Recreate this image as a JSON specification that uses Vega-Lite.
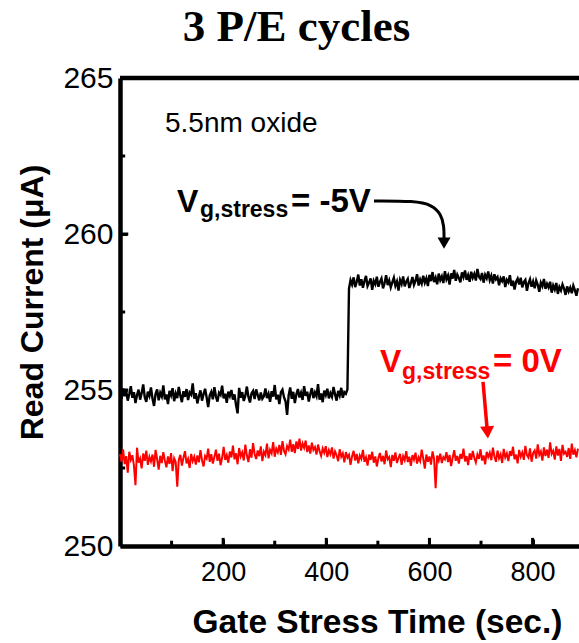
{
  "$schema": "https://vega.github.io/schema/vega-lite/v6.json",
  "width": 459,
  "height": 468,
  "autosize": {"type": "none"},
  "padding": {"left": 120, "top": 78, "right": 0, "bottom": 97},
  "background": "white",
  "config": {
    "view": {"stroke": null},
    "font": "Liberation Sans",
    "axis": {
      "grid": false, "domainColor": "black", "domainWidth": 4.5,
      "tickColor": "black", "tickWidth": 3,
      "labelFont": "Liberation Sans", "labelColor": "black",
      "labelFlush": false, "labelOverlap": false,
      "titleFont": "Liberation Sans", "titleFontWeight": "bold", "titleColor": "black"
    }
  },
  "title": {"text": "3 P/E cycles", "font": "Liberation Serif", "fontSize": 45, "fontWeight": "bold", "color": "black", "anchor": "middle", "frame": "group", "dx": -53, "offset": 13},
  "datasets": {
    "current": [
      {"t":0,"neg5V":254.92,"zeroV":252.95},{"t":3,"neg5V":254.71,"zeroV":252.70},{"t":6,"neg5V":255.05,"zeroV":253.10},{"t":9,"neg5V":254.80,"zeroV":252.62},{"t":12,"neg5V":254.98,"zeroV":252.88},
      {"t":15,"neg5V":254.66,"zeroV":252.35},{"t":18,"neg5V":254.87,"zeroV":253.02},{"t":21,"neg5V":255.12,"zeroV":252.76},{"t":24,"neg5V":254.75,"zeroV":252.91},{"t":27,"neg5V":254.93,"zeroV":252.58},
      {"t":30,"neg5V":254.58,"zeroV":251.95},{"t":33,"neg5V":254.84,"zeroV":253.15},{"t":36,"neg5V":255.01,"zeroV":252.67},{"t":39,"neg5V":254.69,"zeroV":252.80},{"t":42,"neg5V":254.90,"zeroV":252.49},
      {"t":45,"neg5V":255.18,"zeroV":252.97},{"t":48,"neg5V":254.77,"zeroV":252.73},{"t":51,"neg5V":254.62,"zeroV":253.06},{"t":54,"neg5V":254.95,"zeroV":252.60},{"t":57,"neg5V":254.81,"zeroV":252.86},
      {"t":60,"neg5V":255.08,"zeroV":252.71},{"t":63,"neg5V":254.73,"zeroV":252.93},{"t":66,"neg5V":254.49,"zeroV":252.54},{"t":69,"neg5V":254.88,"zeroV":253.08},{"t":72,"neg5V":255.02,"zeroV":252.78},
      {"t":75,"neg5V":254.67,"zeroV":252.45},{"t":78,"neg5V":254.91,"zeroV":252.89},{"t":81,"neg5V":254.79,"zeroV":252.66},{"t":84,"neg5V":255.15,"zeroV":253.01},{"t":87,"neg5V":254.70,"zeroV":252.74},
      {"t":90,"neg5V":254.86,"zeroV":252.52},{"t":93,"neg5V":254.55,"zeroV":252.87},{"t":96,"neg5V":254.97,"zeroV":252.63},{"t":99,"neg5V":254.83,"zeroV":252.98},{"t":102,"neg5V":255.06,"zeroV":252.40},
      {"t":105,"neg5V":254.64,"zeroV":252.81},{"t":108,"neg5V":254.89,"zeroV":252.69},{"t":111,"neg5V":254.74,"zeroV":251.90},{"t":114,"neg5V":255.10,"zeroV":252.77},{"t":117,"neg5V":254.82,"zeroV":252.92},
      {"t":120,"neg5V":254.61,"zeroV":252.58},{"t":123,"neg5V":254.96,"zeroV":252.83},{"t":126,"neg5V":254.78,"zeroV":253.04},{"t":129,"neg5V":255.03,"zeroV":252.65},{"t":132,"neg5V":254.68,"zeroV":252.79},
      {"t":135,"neg5V":254.92,"zeroV":252.50},{"t":138,"neg5V":254.85,"zeroV":252.95},{"t":141,"neg5V":255.21,"zeroV":252.72},{"t":144,"neg5V":254.72,"zeroV":252.86},{"t":147,"neg5V":254.90,"zeroV":252.61},
      {"t":150,"neg5V":254.57,"zeroV":252.90},{"t":153,"neg5V":254.80,"zeroV":252.68},{"t":156,"neg5V":254.99,"zeroV":253.07},{"t":159,"neg5V":254.66,"zeroV":252.75},{"t":162,"neg5V":254.87,"zeroV":252.55},
      {"t":165,"neg5V":255.04,"zeroV":252.88},{"t":168,"neg5V":254.76,"zeroV":252.80},{"t":171,"neg5V":254.45,"zeroV":253.12},{"t":174,"neg5V":254.83,"zeroV":252.70},{"t":177,"neg5V":254.94,"zeroV":252.94},
      {"t":180,"neg5V":254.70,"zeroV":252.64},{"t":183,"neg5V":255.09,"zeroV":252.85},{"t":186,"neg5V":254.79,"zeroV":253.09},{"t":189,"neg5V":254.63,"zeroV":252.73},{"t":192,"neg5V":254.91,"zeroV":252.96},
      {"t":195,"neg5V":254.84,"zeroV":252.59},{"t":198,"neg5V":255.14,"zeroV":252.82},{"t":201,"neg5V":254.73,"zeroV":253.18},{"t":204,"neg5V":254.88,"zeroV":252.76},{"t":207,"neg5V":254.59,"zeroV":252.91},
      {"t":210,"neg5V":254.95,"zeroV":252.67},{"t":213,"neg5V":254.81,"zeroV":253.03},{"t":216,"neg5V":255.00,"zeroV":252.84},{"t":219,"neg5V":254.69,"zeroV":253.22},{"t":222,"neg5V":254.86,"zeroV":252.78},
      {"t":225,"neg5V":254.52,"zeroV":252.97},{"t":228,"neg5V":254.25,"zeroV":252.62},{"t":231,"neg5V":255.07,"zeroV":253.14},{"t":234,"neg5V":254.75,"zeroV":252.87},{"t":237,"neg5V":254.93,"zeroV":253.00},
      {"t":240,"neg5V":254.65,"zeroV":252.74},{"t":243,"neg5V":254.82,"zeroV":253.25},{"t":246,"neg5V":255.11,"zeroV":252.90},{"t":249,"neg5V":254.78,"zeroV":252.69},{"t":252,"neg5V":254.60,"zeroV":253.10},
      {"t":255,"neg5V":254.89,"zeroV":252.83},{"t":258,"neg5V":254.97,"zeroV":253.30},{"t":261,"neg5V":254.71,"zeroV":252.95},{"t":264,"neg5V":255.02,"zeroV":252.79},{"t":267,"neg5V":254.84,"zeroV":253.06},
      {"t":270,"neg5V":254.67,"zeroV":252.88},{"t":273,"neg5V":254.92,"zeroV":253.19},{"t":276,"neg5V":254.72,"zeroV":252.72},{"t":279,"neg5V":254.80,"zeroV":253.02},{"t":282,"neg5V":255.05,"zeroV":252.91},
      {"t":285,"neg5V":254.74,"zeroV":253.28},{"t":288,"neg5V":254.88,"zeroV":252.81},{"t":291,"neg5V":254.62,"zeroV":253.08},{"t":294,"neg5V":254.96,"zeroV":252.97},{"t":297,"neg5V":254.79,"zeroV":253.33},
      {"t":300,"neg5V":255.16,"zeroV":252.86},{"t":303,"neg5V":254.70,"zeroV":253.12},{"t":306,"neg5V":254.85,"zeroV":253.00},{"t":309,"neg5V":254.55,"zeroV":253.24},{"t":312,"neg5V":254.93,"zeroV":252.92},
      {"t":315,"neg5V":255.01,"zeroV":253.36},{"t":318,"neg5V":254.77,"zeroV":253.05},{"t":321,"neg5V":254.64,"zeroV":252.94},{"t":324,"neg5V":254.20,"zeroV":253.20},{"t":327,"neg5V":254.83,"zeroV":253.09},
      {"t":330,"neg5V":255.08,"zeroV":253.41},{"t":333,"neg5V":254.72,"zeroV":253.02},{"t":336,"neg5V":254.94,"zeroV":253.26},{"t":339,"neg5V":254.58,"zeroV":252.98},{"t":342,"neg5V":254.86,"zeroV":253.35},
      {"t":345,"neg5V":255.03,"zeroV":253.11},{"t":348,"neg5V":254.76,"zeroV":253.44},{"t":351,"neg5V":254.91,"zeroV":253.06},{"t":354,"neg5V":254.68,"zeroV":253.29},{"t":357,"neg5V":255.12,"zeroV":253.15},
      {"t":360,"neg5V":254.81,"zeroV":253.38},{"t":363,"neg5V":254.95,"zeroV":253.01},{"t":366,"neg5V":254.63,"zeroV":253.22},{"t":369,"neg5V":254.87,"zeroV":252.96},{"t":372,"neg5V":255.06,"zeroV":253.31},
      {"t":375,"neg5V":254.74,"zeroV":253.08},{"t":378,"neg5V":254.92,"zeroV":253.17},{"t":381,"neg5V":254.80,"zeroV":252.93},{"t":384,"neg5V":255.19,"zeroV":253.25},{"t":387,"neg5V":254.69,"zeroV":253.04},
      {"t":390,"neg5V":254.89,"zeroV":252.89},{"t":393,"neg5V":254.61,"zeroV":253.13},{"t":396,"neg5V":254.98,"zeroV":252.99},{"t":399,"neg5V":254.84,"zeroV":253.20},{"t":402,"neg5V":255.04,"zeroV":252.85},
      {"t":405,"neg5V":254.73,"zeroV":253.07},{"t":408,"neg5V":254.90,"zeroV":252.94},{"t":411,"neg5V":254.78,"zeroV":253.16},{"t":414,"neg5V":255.10,"zeroV":252.80},{"t":417,"neg5V":254.86,"zeroV":253.03},
      {"t":420,"neg5V":254.66,"zeroV":252.91},{"t":423,"neg5V":254.97,"zeroV":252.72},{"t":426,"neg5V":254.82,"zeroV":253.10},{"t":429,"neg5V":255.07,"zeroV":252.86},{"t":432,"neg5V":254.75,"zeroV":252.97},
      {"t":435,"neg5V":254.93,"zeroV":252.68},{"t":438,"neg5V":254.88,"zeroV":253.01},{"t":441,"neg5V":255.02,"zeroV":252.83},{"t":444,"neg5V":258.25,"zeroV":252.92},{"t":447,"neg5V":258.52,"zeroV":252.60},
      {"t":450,"neg5V":258.38,"zeroV":252.88},{"t":453,"neg5V":258.61,"zeroV":253.05},{"t":456,"neg5V":258.30,"zeroV":252.74},{"t":459,"neg5V":258.47,"zeroV":252.95},{"t":462,"neg5V":258.70,"zeroV":252.65},
      {"t":465,"neg5V":258.35,"zeroV":252.90},{"t":468,"neg5V":258.55,"zeroV":252.79},{"t":471,"neg5V":258.28,"zeroV":253.08},{"t":474,"neg5V":258.49,"zeroV":252.70},{"t":477,"neg5V":258.66,"zeroV":252.84},
      {"t":480,"neg5V":258.33,"zeroV":252.58},{"t":483,"neg5V":258.44,"zeroV":252.93},{"t":486,"neg5V":258.58,"zeroV":252.76},{"t":489,"neg5V":258.21,"zeroV":253.02},{"t":492,"neg5V":258.50,"zeroV":252.67},
      {"t":495,"neg5V":258.39,"zeroV":252.87},{"t":498,"neg5V":258.63,"zeroV":252.55},{"t":501,"neg5V":258.31,"zeroV":252.81},{"t":504,"neg5V":258.46,"zeroV":252.98},{"t":507,"neg5V":258.57,"zeroV":252.71},
      {"t":510,"neg5V":258.26,"zeroV":252.89},{"t":513,"neg5V":258.42,"zeroV":252.62},{"t":516,"neg5V":258.68,"zeroV":253.06},{"t":519,"neg5V":258.36,"zeroV":252.78},{"t":522,"neg5V":258.51,"zeroV":252.85},
      {"t":525,"neg5V":258.29,"zeroV":252.53},{"t":528,"neg5V":258.45,"zeroV":252.92},{"t":531,"neg5V":258.60,"zeroV":252.73},{"t":534,"neg5V":258.34,"zeroV":253.00},{"t":537,"neg5V":258.48,"zeroV":252.66},
      {"t":540,"neg5V":258.19,"zeroV":252.82},{"t":543,"neg5V":258.53,"zeroV":252.95},{"t":546,"neg5V":258.40,"zeroV":252.60},{"t":549,"neg5V":258.64,"zeroV":252.88},{"t":552,"neg5V":258.32,"zeroV":252.75},
      {"t":555,"neg5V":258.47,"zeroV":253.04},{"t":558,"neg5V":258.56,"zeroV":252.69},{"t":561,"neg5V":258.27,"zeroV":252.86},{"t":564,"neg5V":258.43,"zeroV":252.57},{"t":567,"neg5V":258.62,"zeroV":252.91},
      {"t":570,"neg5V":258.37,"zeroV":252.77},{"t":573,"neg5V":258.50,"zeroV":252.99},{"t":576,"neg5V":258.71,"zeroV":252.64},{"t":579,"neg5V":258.35,"zeroV":252.84},{"t":582,"neg5V":258.54,"zeroV":252.72},
      {"t":585,"neg5V":258.41,"zeroV":253.09},{"t":588,"neg5V":258.66,"zeroV":252.80},{"t":591,"neg5V":258.44,"zeroV":252.48},{"t":594,"neg5V":258.58,"zeroV":252.93},{"t":597,"neg5V":258.33,"zeroV":252.70},
      {"t":600,"neg5V":258.69,"zeroV":252.87},{"t":603,"neg5V":258.49,"zeroV":252.61},{"t":606,"neg5V":258.78,"zeroV":253.03},{"t":609,"neg5V":258.46,"zeroV":252.79},{"t":612,"neg5V":258.60,"zeroV":251.85},
      {"t":615,"neg5V":258.39,"zeroV":252.90},{"t":618,"neg5V":258.73,"zeroV":252.74},{"t":621,"neg5V":258.52,"zeroV":252.96},{"t":624,"neg5V":258.64,"zeroV":252.66},{"t":627,"neg5V":258.43,"zeroV":252.85},
      {"t":630,"neg5V":258.81,"zeroV":252.78},{"t":633,"neg5V":258.55,"zeroV":253.01},{"t":636,"neg5V":258.67,"zeroV":252.69},{"t":639,"neg5V":258.38,"zeroV":252.92},{"t":642,"neg5V":258.74,"zeroV":252.56},
      {"t":645,"neg5V":258.57,"zeroV":252.83},{"t":648,"neg5V":258.85,"zeroV":253.07},{"t":651,"neg5V":258.50,"zeroV":252.73},{"t":654,"neg5V":258.70,"zeroV":252.89},{"t":657,"neg5V":258.59,"zeroV":252.64},
      {"t":660,"neg5V":258.45,"zeroV":252.95},{"t":663,"neg5V":258.77,"zeroV":252.80},{"t":666,"neg5V":258.62,"zeroV":253.12},{"t":669,"neg5V":258.83,"zeroV":252.71},{"t":672,"neg5V":258.53,"zeroV":252.88},
      {"t":675,"neg5V":258.68,"zeroV":252.59},{"t":678,"neg5V":258.47,"zeroV":252.97},{"t":681,"neg5V":258.79,"zeroV":252.76},{"t":684,"neg5V":258.60,"zeroV":253.05},{"t":687,"neg5V":258.72,"zeroV":252.82},
      {"t":690,"neg5V":258.51,"zeroV":252.68},{"t":693,"neg5V":258.88,"zeroV":252.93},{"t":696,"neg5V":258.63,"zeroV":252.79},{"t":699,"neg5V":258.56,"zeroV":253.10},{"t":702,"neg5V":258.75,"zeroV":252.74},
      {"t":705,"neg5V":258.44,"zeroV":252.90},{"t":708,"neg5V":258.69,"zeroV":252.62},{"t":711,"neg5V":258.58,"zeroV":253.02},{"t":714,"neg5V":258.80,"zeroV":252.85},{"t":717,"neg5V":258.52,"zeroV":252.99},
      {"t":720,"neg5V":258.66,"zeroV":252.75},{"t":723,"neg5V":258.41,"zeroV":253.15},{"t":726,"neg5V":258.71,"zeroV":252.87},{"t":729,"neg5V":258.55,"zeroV":252.70},{"t":732,"neg5V":258.62,"zeroV":253.06},
      {"t":735,"neg5V":258.36,"zeroV":252.81},{"t":738,"neg5V":258.58,"zeroV":252.94},{"t":741,"neg5V":258.49,"zeroV":252.66},{"t":744,"neg5V":258.64,"zeroV":253.11},{"t":747,"neg5V":258.30,"zeroV":252.84},
      {"t":750,"neg5V":258.53,"zeroV":252.97},{"t":753,"neg5V":258.45,"zeroV":252.72},{"t":756,"neg5V":258.68,"zeroV":253.04},{"t":759,"neg5V":258.34,"zeroV":252.89},{"t":762,"neg5V":258.50,"zeroV":253.18},
      {"t":765,"neg5V":258.22,"zeroV":252.78},{"t":768,"neg5V":258.47,"zeroV":252.93},{"t":771,"neg5V":258.57,"zeroV":252.65},{"t":774,"neg5V":258.38,"zeroV":253.08},{"t":777,"neg5V":258.60,"zeroV":252.86},
      {"t":780,"neg5V":258.29,"zeroV":253.00},{"t":783,"neg5V":258.46,"zeroV":252.76},{"t":786,"neg5V":258.53,"zeroV":253.21},{"t":789,"neg5V":258.18,"zeroV":252.91},{"t":792,"neg5V":258.42,"zeroV":252.83},
      {"t":795,"neg5V":258.55,"zeroV":253.13},{"t":798,"neg5V":258.31,"zeroV":252.70},{"t":801,"neg5V":258.48,"zeroV":252.98},{"t":804,"neg5V":258.26,"zeroV":253.06},{"t":807,"neg5V":258.51,"zeroV":252.80},
      {"t":810,"neg5V":258.37,"zeroV":253.26},{"t":813,"neg5V":258.15,"zeroV":252.92},{"t":816,"neg5V":258.44,"zeroV":253.03},{"t":819,"neg5V":258.33,"zeroV":252.74},{"t":822,"neg5V":258.56,"zeroV":253.16},
      {"t":825,"neg5V":258.24,"zeroV":252.88},{"t":828,"neg5V":258.40,"zeroV":253.09},{"t":831,"neg5V":258.29,"zeroV":252.82},{"t":834,"neg5V":258.47,"zeroV":253.32},{"t":837,"neg5V":258.12,"zeroV":252.95},
      {"t":840,"neg5V":258.35,"zeroV":253.05},{"t":843,"neg5V":258.22,"zeroV":252.77},{"t":846,"neg5V":258.43,"zeroV":253.19},{"t":849,"neg5V":258.08,"zeroV":252.90},{"t":852,"neg5V":258.30,"zeroV":253.11},
      {"t":855,"neg5V":258.19,"zeroV":252.73},{"t":858,"neg5V":258.38,"zeroV":253.24},{"t":861,"neg5V":258.25,"zeroV":252.96},{"t":864,"neg5V":258.05,"zeroV":253.02},{"t":867,"neg5V":258.32,"zeroV":252.85},
      {"t":870,"neg5V":258.16,"zeroV":253.14},{"t":873,"neg5V":258.28,"zeroV":252.79},{"t":876,"neg5V":258.10,"zeroV":253.28},{"t":879,"neg5V":258.34,"zeroV":252.93},{"t":882,"neg5V":258.20,"zeroV":253.07},
      {"t":885,"neg5V":258.02,"zeroV":252.84},{"t":888,"neg5V":258.26,"zeroV":253.12}
    ],
    "arrowNeg5": [
      {"k":0,"t":492.5,"v":261.06},{"k":1,"t":572.0,"v":261.06},{"k":2,"t":605.0,"v":260.93},
      {"k":3,"t":622.5,"v":260.64},{"k":4,"t":628.3,"v":260.26},{"k":5,"t":628.3,"v":259.87}
    ],
    "arrowZero": [
      {"k":0,"t":703.9,"v":255.26},{"k":1,"t":711.7,"v":253.78}
    ],
    "majorTimeTicks": [{"t":200},{"t":400},{"t":600},{"t":800}],
    "minorTimeTicks": [{"t":100},{"t":300},{"t":500},{"t":700}],
    "majorCurrentTicks": [{"v":255},{"v":260}],
    "minorCurrentTicks": [{"v":252.5},{"v":257.5},{"v":262.5}],
    "anchor": [{}]
  },
  "layer": [
    {
      "data": {"name": "current"},
      "mark": {"type": "line", "color": "black", "strokeWidth": 2.4},
      "encoding": {
        "x": {
          "field": "t", "type": "quantitative",
          "scale": {"domain": [0, 890], "nice": false, "zero": false},
          "axis": {
            "orient": "bottom", "title": "Gate Stress Time (sec.)",
            "values": [200, 400, 600, 800],
            "format": "d",
            "tickSize": -7,
            "labelFontSize": 27, "labelPadding": 20,
            "titleFontSize": 33.5,
            "titleX": 257, "titleY": 86, "titleAlign": "center", "titleBaseline": "alphabetic"
          }
        },
        "y": {
          "field": "neg5V", "type": "quantitative",
          "scale": {"domain": [250, 265], "nice": false, "zero": false},
          "axis": {
            "orient": "left", "title": "Read Current (μA)",
            "values": [250, 255, 260, 265],
            "format": "d",
            "tickSize": -7,
            "labelFontSize": 30, "labelPadding": 14,
            "titleFontSize": 32,
            "titleX": -78, "titleY": 224, "titleAngle": -90, "titleAlign": "center", "titleBaseline": "alphabetic"
          }
        }
      }
    },
    {
      "data": {"name": "current"},
      "mark": {"type": "line", "color": "#ff0000", "strokeWidth": 2},
      "encoding": {
        "x": {"field": "t", "type": "quantitative"},
        "y": {"field": "zeroV", "type": "quantitative"}
      }
    },
    {
      "data": {"name": "majorTimeTicks"},
      "mark": {"type": "rule", "color": "black", "strokeWidth": 3},
      "encoding": {
        "x": {"field": "t", "type": "quantitative"},
        "y": {"datum": 250, "type": "quantitative"},
        "y2": {"datum": 250.26}
      }
    },
    {
      "data": {"name": "minorTimeTicks"},
      "mark": {"type": "rule", "color": "black", "strokeWidth": 3},
      "encoding": {
        "x": {"field": "t", "type": "quantitative"},
        "y": {"datum": 250, "type": "quantitative"},
        "y2": {"datum": 250.17}
      }
    },
    {
      "data": {"name": "majorCurrentTicks"},
      "mark": {"type": "rule", "color": "black", "strokeWidth": 3},
      "encoding": {
        "y": {"field": "v", "type": "quantitative"},
        "x": {"datum": 0, "type": "quantitative"},
        "x2": {"datum": 16}
      }
    },
    {
      "data": {"name": "minorCurrentTicks"},
      "mark": {"type": "rule", "color": "black", "strokeWidth": 3},
      "encoding": {
        "y": {"field": "v", "type": "quantitative"},
        "x": {"datum": 0, "type": "quantitative"},
        "x2": {"datum": 10}
      }
    },
    {
      "data": {"name": "anchor"},
      "mark": {"type": "rule", "color": "black", "strokeWidth": 4.5},
      "encoding": {"y": {"datum": 265, "type": "quantitative"}}
    },
    {
      "data": {"name": "anchor"},
      "mark": {"type": "text", "text": "5.5nm oxide", "font": "Liberation Sans", "fontSize": 28, "align": "left", "baseline": "alphabetic", "color": "black"},
      "encoding": {"x": {"datum": 87.3, "type": "quantitative"}, "y": {"datum": 263.28, "type": "quantitative"}}
    },
    {
      "data": {"name": "anchor"},
      "mark": {"type": "text", "text": "V", "font": "Liberation Sans", "fontSize": 32, "fontWeight": "bold", "align": "left", "baseline": "alphabetic", "color": "black"},
      "encoding": {"x": {"datum": 110.5, "type": "quantitative"}, "y": {"datum": 260.705, "type": "quantitative"}}
    },
    {
      "data": {"name": "anchor"},
      "mark": {"type": "text", "text": "g,stress", "font": "Liberation Sans", "fontSize": 23, "fontWeight": "bold", "align": "left", "baseline": "alphabetic", "color": "black"},
      "encoding": {"x": {"datum": 155.1, "type": "quantitative"}, "y": {"datum": 260.545, "type": "quantitative"}}
    },
    {
      "data": {"name": "anchor"},
      "mark": {"type": "text", "text": "= -5V", "font": "Liberation Sans", "fontSize": 33, "fontWeight": "bold", "align": "left", "baseline": "alphabetic", "color": "black"},
      "encoding": {"x": {"datum": 331.6, "type": "quantitative"}, "y": {"datum": 260.705, "type": "quantitative"}}
    },
    {
      "data": {"name": "anchor"},
      "mark": {"type": "text", "text": "V", "font": "Liberation Sans", "fontSize": 32, "fontWeight": "bold", "align": "left", "baseline": "alphabetic", "color": "#ff0000"},
      "encoding": {"x": {"datum": 504.2, "type": "quantitative"}, "y": {"datum": 255.577, "type": "quantitative"}}
    },
    {
      "data": {"name": "anchor"},
      "mark": {"type": "text", "text": "g,stress", "font": "Liberation Sans", "fontSize": 23, "fontWeight": "bold", "align": "left", "baseline": "alphabetic", "color": "#ff0000"},
      "encoding": {"x": {"datum": 546.8, "type": "quantitative"}, "y": {"datum": 255.353, "type": "quantitative"}}
    },
    {
      "data": {"name": "anchor"},
      "mark": {"type": "text", "text": "= 0V", "font": "Liberation Sans", "fontSize": 33, "fontWeight": "bold", "align": "left", "baseline": "alphabetic", "color": "#ff0000"},
      "encoding": {"x": {"datum": 723.3, "type": "quantitative"}, "y": {"datum": 255.577, "type": "quantitative"}}
    },
    {
      "data": {"name": "arrowNeg5"},
      "mark": {"type": "line", "color": "black", "strokeWidth": 3, "interpolate": "basis"},
      "encoding": {
        "x": {"field": "t", "type": "quantitative"},
        "y": {"field": "v", "type": "quantitative"},
        "order": {"field": "k"}
      }
    },
    {
      "data": {"name": "anchor"},
      "mark": {"type": "point", "shape": "triangle-down", "filled": true, "color": "black", "opacity": 1, "size": 170},
      "encoding": {"x": {"datum": 628.3, "type": "quantitative"}, "y": {"datum": 259.71, "type": "quantitative"}}
    },
    {
      "data": {"name": "arrowZero"},
      "mark": {"type": "line", "color": "#ff0000", "strokeWidth": 3.5},
      "encoding": {
        "x": {"field": "t", "type": "quantitative"},
        "y": {"field": "v", "type": "quantitative"},
        "order": {"field": "k"}
      }
    },
    {
      "data": {"name": "anchor"},
      "mark": {"type": "point", "shape": "triangle-down", "filled": true, "color": "#ff0000", "opacity": 1, "size": 200, "angle": -4},
      "encoding": {"x": {"datum": 712.6, "type": "quantitative"}, "y": {"datum": 253.64, "type": "quantitative"}}
    }
  ]
}
